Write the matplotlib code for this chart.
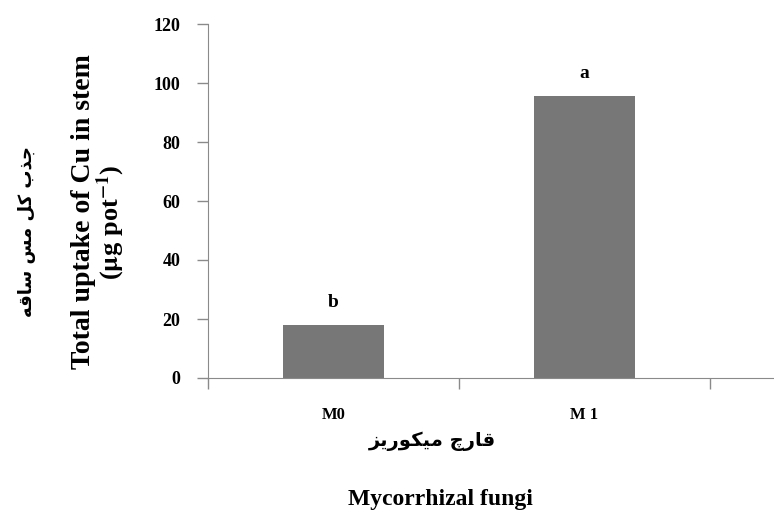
import matplotlib
matplotlib.use("Agg")
import matplotlib.pyplot as plt

categories = ["M0", "M 1"]
values = [17.8, 95.5]
letters = ["b", "a"]
y_ticks = [0, 20, 40, 60, 80, 100, 120]

# persian labels, written in shaped presentation forms and visual order
fa_ylabel = "\uFE9F\uFEAC\uFE8F \uFB90\uFEDE \uFEE3\uFEB2 \uFEB3\uFE8E\uFED7\uFEEA"[::-1]
fa_xlabel = "\uFED7\uFE8E\uFEAD\uFB7A \uFEE3\uFBFF\uFB91\uFEEE\uFEAD\uFBFE\uFEB0"[::-1]

plt.rcParams['font.family'] = 'Liberation Serif'
plt.rcParams['font.weight'] = 'bold'
plt.rcParams['mathtext.fontset'] = 'stix'

W, H = 774, 524
fig = plt.figure(figsize=(W / 100, H / 100), dpi=100)
left, bottom, top = 208, 378, 24
ax = fig.add_axes([left / W, (H - bottom) / H, (W - left) / W, (bottom - top) / H])

bar_w = 0.4
ax.bar(range(len(categories)), values, width=bar_w, color='#777777', zorder=2)
for i, (v, l) in enumerate(zip(values, letters)):
    ax.text(i, v + 5, l, ha='center', va='bottom', fontsize=14, fontweight='bold')

ax.set_ylim(0, 120)
ax.set_xlim(-0.5, -0.5 + (W - left) / 251)
ax.set_yticks(y_ticks)
ax.set_xticks([-0.5, 0.5, 1.5])
ax.set_xticklabels([])
ax.tick_params(axis='both', colors='#8a8a8a', length=8, width=1, labelcolor='black', labelsize=13)
for lab in ax.get_yticklabels():
    lab.set_fontweight('bold')
ax.tick_params(axis='y', pad=12)
for s in ['top', 'right']:
    ax.spines[s].set_visible(False)
for s in ['left', 'bottom']:
    ax.spines[s].set_color('#8a8a8a')

for i, c in enumerate(categories):
    ax.text(i, -12.5, c, ha='center', va='center', fontsize=12, fontweight='bold')

fig.text(84 / W, 1 - 212 / H, "Total uptake of Cu in stem", rotation=90,
         ha='center', va='center', fontsize=20, fontweight='bold')
fig.text(111 / W, 1 - 222 / H, r"($\mathbf{\mu}$g pot$^{\mathbf{-1}}$)", rotation=90,
         ha='center', va='center', fontsize=19, fontweight='bold')
fig.text(27 / W, 1 - 232 / H, fa_ylabel, rotation=90, ha='center', va='center',
         fontsize=13, family='DejaVu Sans', fontweight='bold')
fig.text(432 / W, 1 - 441 / H, fa_xlabel, ha='center', va='center',
         fontsize=14, family='DejaVu Sans', fontweight='bold')
fig.text(440 / W, 1 - 500 / H, "Mycorrhizal fungi", ha='center', va='center',
         fontsize=17, fontweight='bold')

fig.savefig("out.png", dpi=100)
